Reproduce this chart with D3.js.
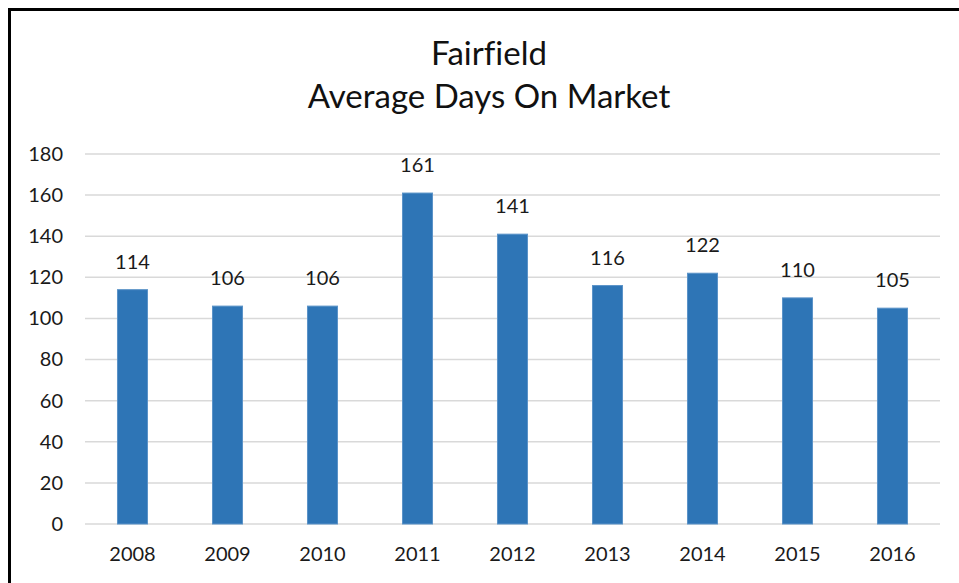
<!DOCTYPE html>
<html>
<head>
<meta charset="utf-8">
<script src="https://cdn.jsdelivr.net/npm/d3@7"></script>
<style>
  body { margin: 0; background: #fff; }
  svg text { font-family: Lato, "Open Sans", sans-serif; fill: #1a1a1a; font-variant-ligatures: none; }
  .title { font-size: 33px; fill: #111; }
  .axis text { font-size: 20px; }
  .bar-label { font-size: 20px; }
</style>
</head>
<body>
<svg id="chart"></svg>
<script>
// chart data
const years = ['2008', '2009', '2010', '2011', '2012', '2013', '2014', '2015', '2016'];
const avgDays = [114, 106, 106, 161, 141, 116, 122, 110, 105];
const yTicks = [0, 20, 40, 60, 80, 100, 120, 140, 160, 180];
const titleLines = ['Fairfield', 'Average Days On Market'];

const config = {
    containerWidth: 959,
    containerHeight: 583,
    margin: {top: 154, right: 19, bottom: 59, left: 85}
};

const width = config.containerWidth - config.margin.left - config.margin.right;
const height = config.containerHeight - config.margin.top - config.margin.bottom;

const svg = d3.select('#chart')
    .attr('width', config.containerWidth)
    .attr('height', config.containerHeight);

// outer frame (right and bottom run off the picture)
svg.append('rect')
    .attr('x', 9.5)
    .attr('y', 9.5)
    .attr('width', 1000)
    .attr('height', 1000)
    .attr('fill', 'none')
    .attr('stroke', '#000')
    .attr('stroke-width', 3);

const chart = svg.append('g')
    .attr('transform', `translate(${config.margin.left},${config.margin.top})`);

const xScale = d3.scaleBand()
    .domain(years)
    .range([0, width])
    .paddingInner(0.684)
    .paddingOuter(0.342);

const yScale = d3.scaleLinear()
    .domain([0, 180])
    .range([height, 0]);

// gridlines
chart.selectAll('.grid-line')
    .data(yTicks)
    .join('line')
    .attr('class', 'grid-line')
    .attr('x1', 0)
    .attr('x2', width)
    .attr('y1', d => yScale(d))
    .attr('y2', d => yScale(d))
    .attr('stroke', '#d9d9d9')
    .attr('stroke-width', 1.5);

// y axis labels only
const yAxis = d3.axisLeft(yScale)
    .tickValues(yTicks)
    .tickSize(0)
    .tickPadding(22);

chart.append('g')
    .attr('class', 'axis y-axis')
    .call(yAxis)
    .call(g => g.select('.domain').remove());

// x axis labels only
const xAxis = d3.axisBottom(xScale)
    .tickSize(0)
    .tickPadding(23);

chart.append('g')
    .attr('class', 'axis x-axis')
    .attr('transform', `translate(0,${height})`)
    .call(xAxis)
    .call(g => g.select('.domain').remove());

// bars
const data = years.map((y, i) => ({year: y, value: avgDays[i]}));

chart.selectAll('.bar')
    .data(data)
    .join('rect')
    .attr('class', 'bar')
    .attr('x', d => xScale(d.year))
    .attr('y', d => yScale(d.value))
    .attr('width', xScale.bandwidth())
    .attr('height', d => height - yScale(d.value))
    .attr('fill', '#2e75b6')
    .attr('stroke', '#5b93c8')
    .attr('stroke-width', 1);

chart.selectAll('.bar-label')
    .data(data)
    .join('text')
    .attr('class', 'bar-label')
    .attr('x', d => xScale(d.year) + xScale.bandwidth() / 2)
    .attr('y', d => yScale(d.value) - 21)
    .attr('text-anchor', 'middle')
    .text(d => d.value);

// title
svg.selectAll('.title')
    .data(titleLines)
    .join('text')
    .attr('class', 'title')
    .attr('x', 489)
    .attr('y', (d, i) => 65 + i * 43)
    .attr('text-anchor', 'middle')
    .text(d => d);
</script>
</body>
</html>
